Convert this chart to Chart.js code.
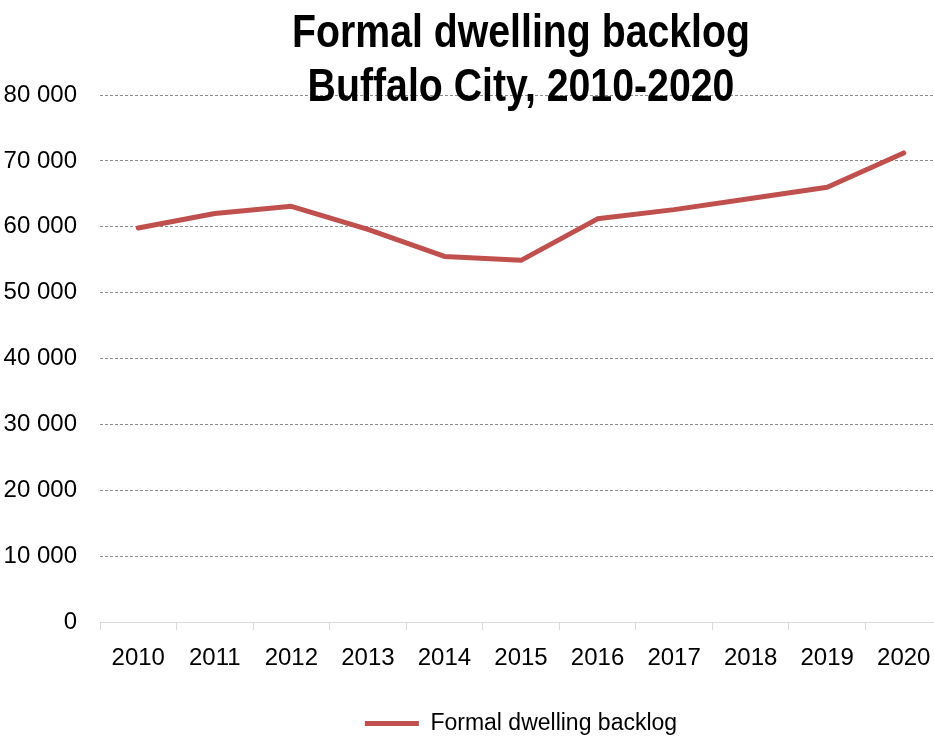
<!DOCTYPE html>
<html lang="en">
<head>
    <meta charset="UTF-8">
    <title>Formal dwelling backlog</title>
    <script src="https://cdn.jsdelivr.net/npm/chart.js"></script>
    <style>
        html, body { margin: 0; padding: 0; background: #fff; overflow: hidden; }
        .janela { width: 1042px; height: 745px; position: relative; }
    </style>
</head>
<body>
    <div class="janela">
        <canvas id="backlogChart" width="1042" height="745"></canvas>
    </div>

<script>
    // dados
    var anos = ['2010', '2011', '2012', '2013', '2014', '2015', '2016', '2017', '2018', '2019', '2020']
    var backlog = [59800, 62000, 63100, 59600, 55500, 54900, 61200, 62600, 64300, 66000, 71200]
    var tituloLinhas = ['Formal dwelling backlog', 'Buffalo City, 2010-2020']
    var nomeSerie = 'Formal dwelling backlog'

    var fonte = "'Liberation Sans Narrow', 'Arial Narrow', 'Liberation Sans', sans-serif"

    function comEspaco(v) {
        return String(v).replace(/\B(?=(\d{3})+(?!\d))/g, ' ')
    }

    // titulo desenhado por cima da area do grafico, como no original (fonte estreita simulada)
    const tituloPlugin = {
        id: 'tituloSobreposto',
        afterDraw(chart) {
            const c = chart.ctx
            const meio = (chart.chartArea.left + chart.chartArea.right) / 2
            const estreita = 0.835
            c.save()
            c.fillStyle = '#000'
            c.font = 'bold 47px ' + fonte
            c.textAlign = 'center'
            c.textBaseline = 'alphabetic'
            c.translate(meio, 0)
            c.scale(estreita, 1)
            c.fillText(tituloLinhas[0], 0, 47)
            c.fillText(tituloLinhas[1], 0, 101)
            c.restore()
        }
    }

    const ctx = document.getElementById('backlogChart')

    var grafico = new Chart(ctx, {
        type: 'line',
        data: {
            labels: anos,
            datasets: [{
                label: nomeSerie,
                data: backlog,
                borderColor: '#c0504d',
                backgroundColor: '#c0504d',
                borderWidth: 5,
                borderCapStyle: 'round',
                borderJoinStyle: 'round',
                pointRadius: 0,
                pointHoverRadius: 0,
                tension: 0,
                fill: false
            }]
        },
        options: {
            responsive: false,
            animation: false,
            layout: { padding: { top: 95, right: 100, left: 0, bottom: 0 } },
            plugins: {
                title: { display: false },
                tooltip: { enabled: false },
                legend: {
                    position: 'bottom',
                    fullSize: false,
                    labels: {
                        usePointStyle: true,
                        pointStyle: 'line',
                        pointStyleWidth: 54,
                        boxHeight: 5,
                        padding: 10,
                        color: '#000',
                        font: { family: fonte, size: 23 }
                    }
                }
            },
            scales: {
                x: {
                    offset: true,
                    grid: {
                        offset: true,
                        drawOnChartArea: false,
                        drawTicks: true,
                        tickLength: 8,
                        color: '#d9d9d9'
                    },
                    border: { display: true, color: '#d9d9d9', width: 1 },
                    ticks: {
                        color: '#000',
                        padding: 14,
                        maxRotation: 0,
                        font: { family: fonte, size: 24 }
                    },
                    afterFit(scale) { scale.height = 80 }
                },
                y: {
                    min: 0,
                    max: 80000,
                    ticks: {
                        stepSize: 10000,
                        color: '#000',
                        padding: 23,
                        font: { family: fonte, size: 24 },
                        callback: function (v) { return comEspaco(v) }
                    },
                    grid: {
                        drawTicks: false,
                        lineWidth: 1,
                        color: function (c) { return c.tick && c.tick.value === 0 ? 'rgba(0,0,0,0)' : '#8c8c8c' }
                    },
                    border: { display: false, dash: [3, 2] },
                    afterFit(scale) { scale.width = 100 }
                }
            }
        },
        plugins: [tituloPlugin]
    })
</script>
</body>
</html>
